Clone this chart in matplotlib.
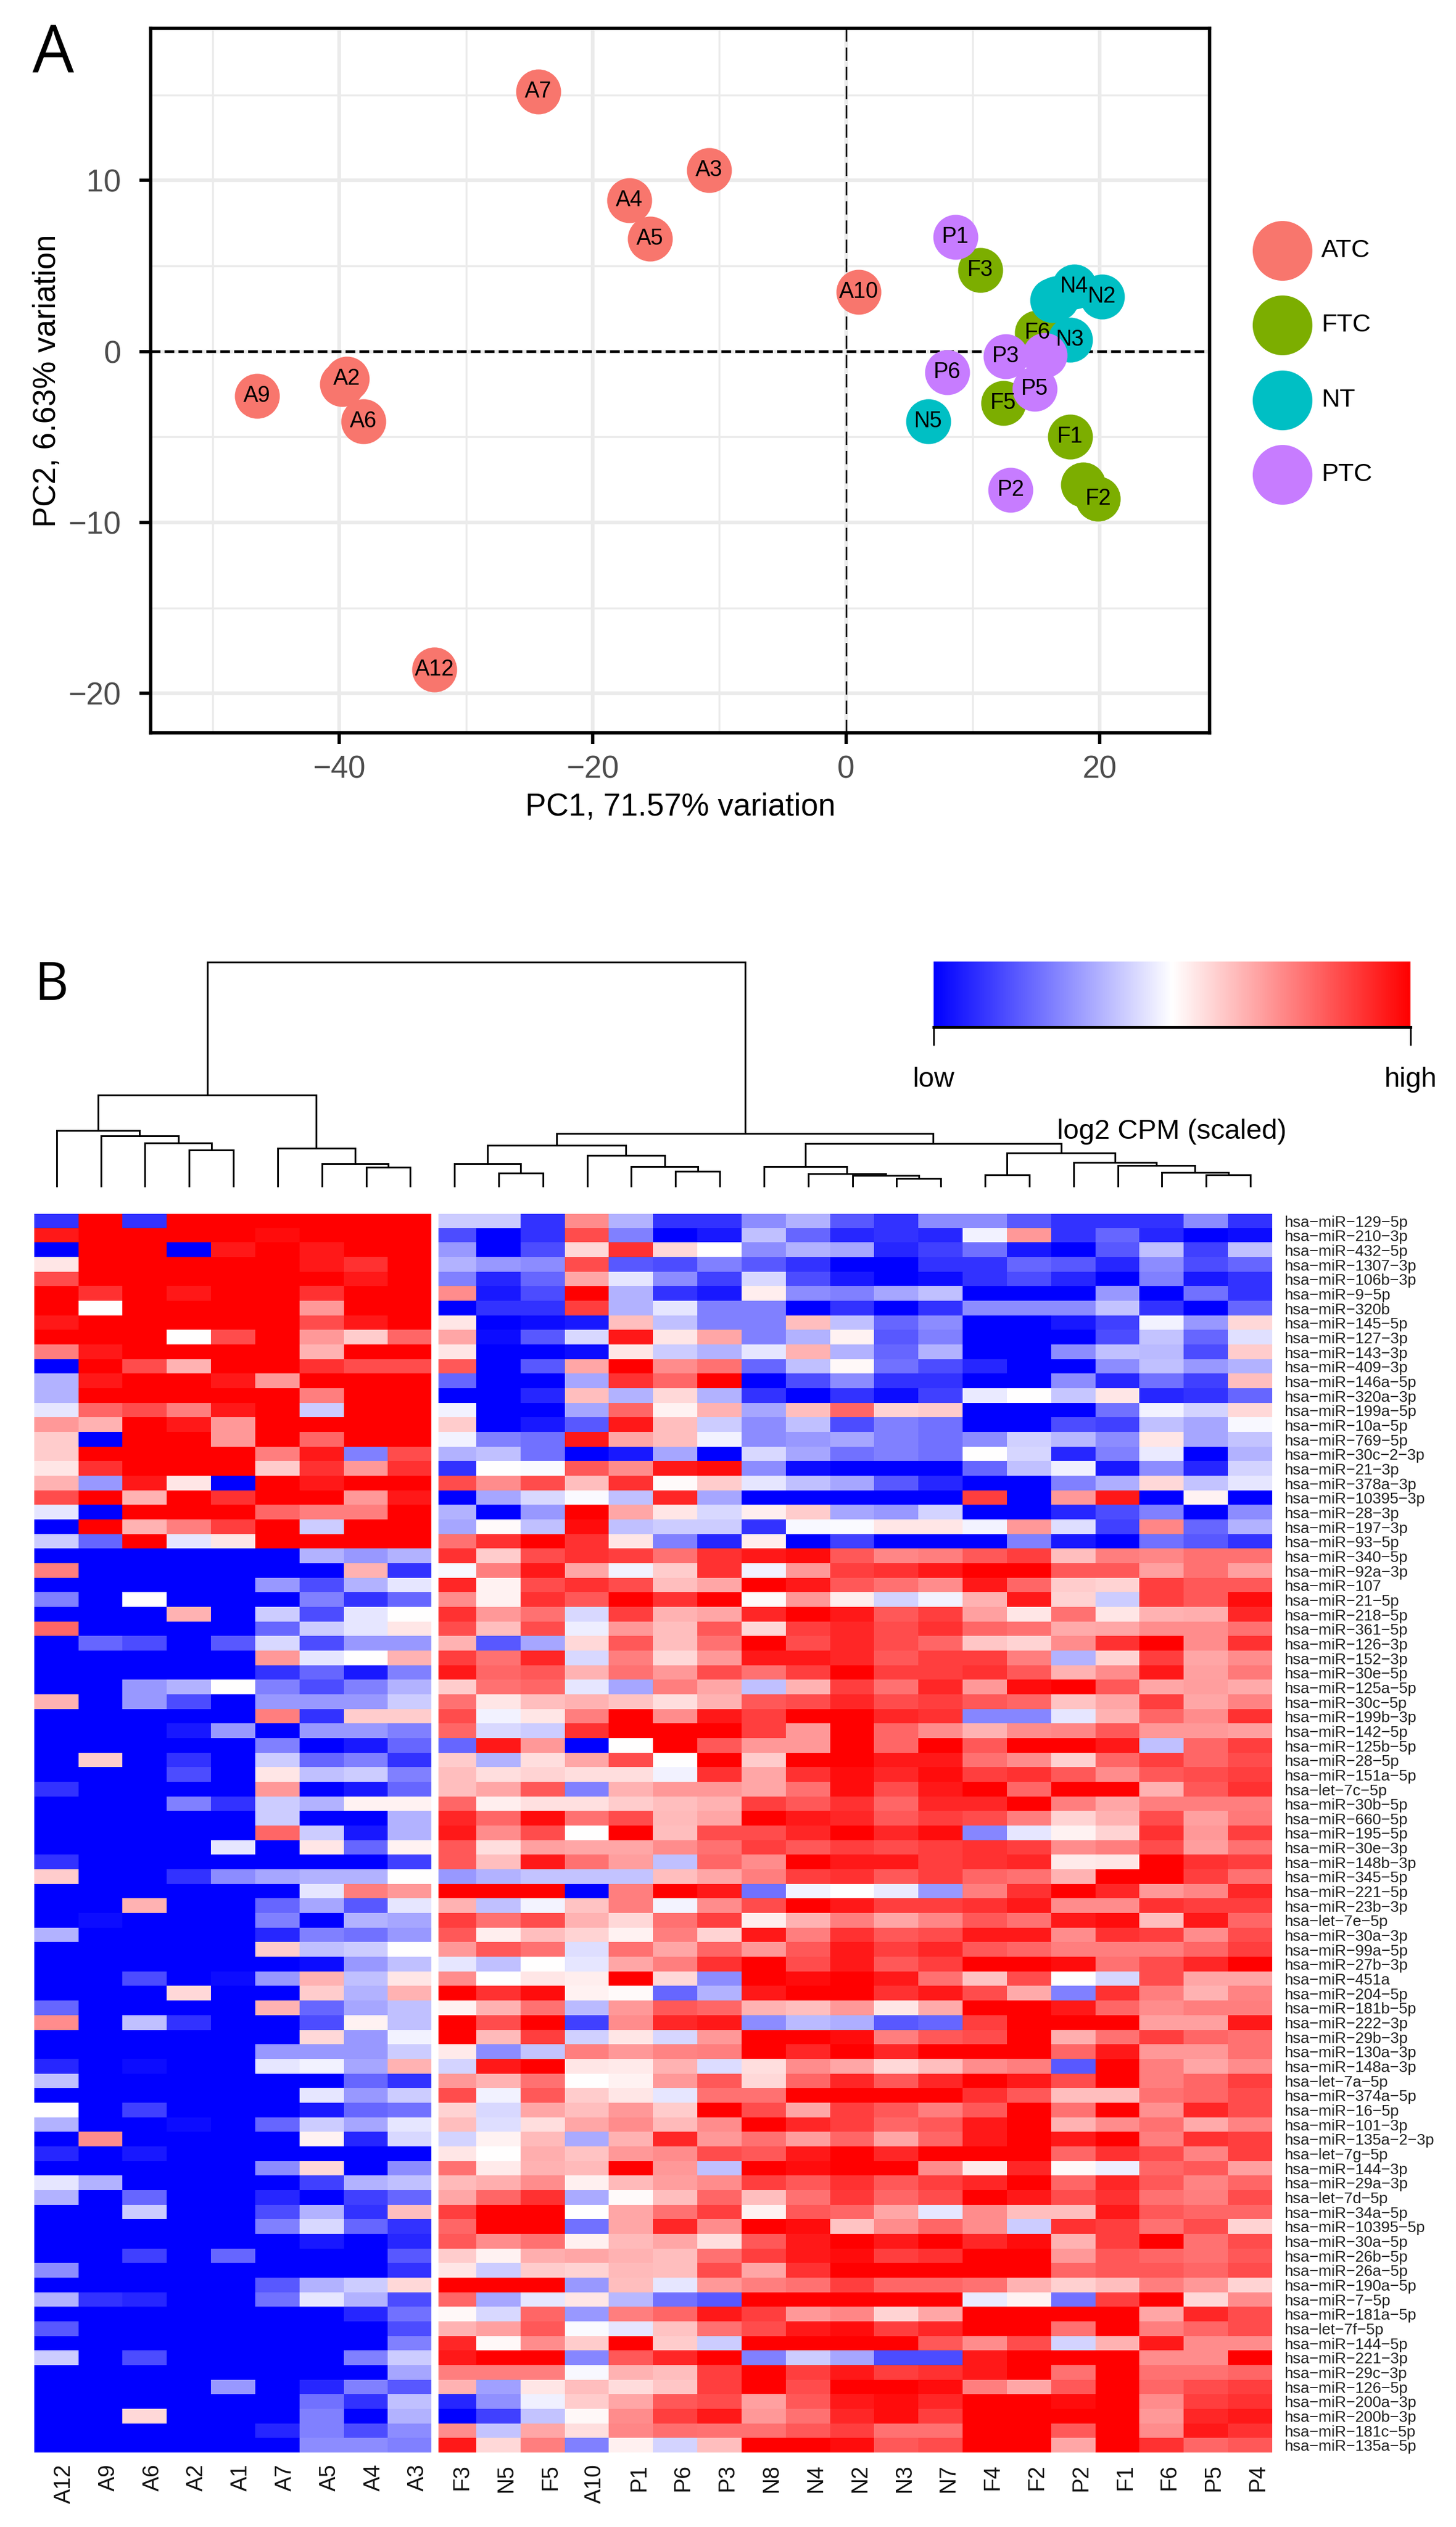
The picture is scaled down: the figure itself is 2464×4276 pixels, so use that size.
import numpy as np
import matplotlib
matplotlib.use('Agg')
import matplotlib.pyplot as plt
from matplotlib.cm import ScalarMappable
from matplotlib.colors import Normalize
from matplotlib.transforms import ScaledTranslation

plt.rcParams['font.family'] = ['Liberation Sans', 'DejaVu Sans']

W, H = 2464, 4276

# panel A
group_names = ['ATC', 'FTC', 'NT', 'PTC']
group_colors = ['#F8766D', '#7CAE00', '#00BFC4', '#C77CFF']
atc_labels = ['A7', 'A3', 'A4', 'A5', 'A10', '', 'A2', 'A9', 'A6', 'A12']
atc_pc1 = [-24.3, -10.8, -17.1, -15.5, 1.0, -39.8, -39.4, -46.5, -38.1, -32.5]
atc_pc2 = [15.2, 10.6, 8.85, 6.6, 3.5, -1.9, -1.6, -2.6, -4.1, -18.6]
ftc_labels = ['F3', 'F6', 'F5', 'F1', '', 'F2']
ftc_pc1 = [10.6, 15.1, 12.4, 17.7, 18.7, 19.9]
ftc_pc2 = [4.75, 1.1, -3.0, -5.0, -7.8, -8.6]
nt_labels = ['', '', 'N4', 'N2', 'N3', 'N5']
nt_pc1 = [16.6, 16.3, 18.0, 20.2, 17.7, 6.5]
nt_pc2 = [3.1, 3.0, 3.8, 3.2, 0.7, -4.1]
ptc_labels = ['P1', 'P3', '', 'P6', 'P5', 'P2']
ptc_pc1 = [8.65, 12.6, 15.7, 8.0, 14.9, 13.0]
ptc_pc2 = [6.7, -0.3, -0.2, -1.2, -2.2, -8.1]

# panel B
col_labels = ['A12', 'A9', 'A6', 'A2', 'A1', 'A7', 'A5', 'A4', 'A3',
              'F3', 'N5', 'F5', 'A10', 'P1', 'P6', 'P3', 'N8', 'N4', 'N2',
              'N3', 'N7', 'F4', 'F2', 'P2', 'F1', 'F6', 'P5', 'P4']
row_names = ['miR-129-5p', 'miR-210-3p', 'miR-432-5p', 'miR-1307-3p', 'miR-106b-3p', 'miR-9-5p', 'miR-320b',
             'miR-145-5p', 'miR-127-3p', 'miR-143-3p', 'miR-409-3p', 'miR-146a-5p', 'miR-320a-3p', 'miR-199a-5p',
             'miR-10a-5p', 'miR-769-5p', 'miR-30c-2-3p', 'miR-21-3p', 'miR-378a-3p', 'miR-10395-3p', 'miR-28-3p',
             'miR-197-3p', 'miR-93-5p', 'miR-340-5p', 'miR-92a-3p', 'miR-107', 'miR-21-5p', 'miR-218-5p',
             'miR-361-5p', 'miR-126-3p', 'miR-152-3p', 'miR-30e-5p', 'miR-125a-5p', 'miR-30c-5p', 'miR-199b-3p',
             'miR-142-5p', 'miR-125b-5p', 'miR-28-5p', 'miR-151a-5p', 'let-7c-5p', 'miR-30b-5p', 'miR-660-5p',
             'miR-195-5p', 'miR-30e-3p', 'miR-148b-3p', 'miR-345-5p', 'miR-221-5p', 'miR-23b-3p', 'let-7e-5p',
             'miR-30a-3p', 'miR-99a-5p', 'miR-27b-3p', 'miR-451a', 'miR-204-5p', 'miR-181b-5p', 'miR-222-3p',
             'miR-29b-3p', 'miR-130a-3p', 'miR-148a-3p', 'let-7a-5p', 'miR-374a-5p', 'miR-16-5p', 'miR-101-3p',
             'miR-135a-2-3p', 'let-7g-5p', 'miR-144-3p', 'miR-29a-3p', 'let-7d-5p', 'miR-34a-5p', 'miR-10395-5p',
             'miR-30a-5p', 'miR-26b-5p', 'miR-26a-5p', 'miR-190a-5p', 'miR-7-5p', 'miR-181a-5p', 'let-7f-5p',
             'miR-144-5p', 'miR-221-3p', 'miR-29c-3p', 'miR-126-5p', 'miR-200a-3p', 'miR-200b-3p', 'miR-181c-5p',
             'miR-135a-5p']

# scaled expression, -10 (low) to 10 (high), read by eye
atc_block = [
    [-8, 10, -8, 10, 10, 10, 10, 10, 10],
    [9, 10, 10, 10, 10, 9.5, 10, 10, 10],
    [-10, 10, 10, -10, 9, 10, 9, 10, 10],
    [1, 10, 10, 10, 10, 10, 9, 8, 10],
    [7, 10, 10, 10, 10, 10, 10, 9, 10],
    [10, 8, 10, 9, 10, 10, 8, 10, 10],
    [10, 0, 10, 10, 10, 10, 4, 10, 10],
    [9, 10, 10, 10, 10, 10, 7, 9, 10],
    [10, 10, 10, 0, 7, 10, 4, 2, 6],
    [5, 9, 10, 10, 10, 10, 3, 10, 10],
    [-10, 10, 7, 3, 10, 10, 8, 7, 7],
    [-3, 9, 10, 10, 9, 4, 10, 10, 10],
    [-3, 10, 10, 10, 10, 10, 5, 10, 10],
    [-1, 6, 7, 5, 9, 10, -2, 10, 10],
    [4, 3, 10, 9, 4, 10, 10, 10, 10],
    [2, -10, 10, 10, 4, 10, 6, 10, 10],
    [2, 10, 10, 10, 10, 5, 9, -5, 7],
    [1, 8, 10, 10, 10, 2, 8, 4, 8],
    [3, -4, 9, 1, -10, 10, 9, 10, 10],
    [7, 10, 3, 10, 8, 10, 10, 4, 9],
    [-1, -10, 10, 10, 10, 6, 5, 5, 10],
    [-10, 10, 3, 5, 7.5, 10, -2, 10, 10],
    [-2, -6, 10, -1, 1, 10, 10, 10, 10],
    [-10, -10, -10, -10, -10, -10, -3, -4, -3],
    [5, -10, -10, -10, -10, -10, -10, 3, -8],
    [-10, -10, -10, -10, -10, -4, -7, -3, -1],
    [-5, -10, 0, -10, -10, -10, -5, -8, -6],
    [-10, -10, -10, 3, -10, -2, -7, -1, 0],
    [6, -10, -10, -10, -10, -6, -2, -1, 1],
    [-10, -6, -7, -10, -6.5, -1.5, -7, -4, -4],
    [-10, -10, -10, -10, -10, 4, -1, 0, 3],
    [-10, -10, -10, -10, -10, -8, -6, -9, -5],
    [-10, -10, -4, -3, 0, -5, -7, -5, -3],
    [3, -10, -4, -7, -10, -4, -4, -4, -2],
    [-10, -10, -10, -10, -10, 5, -8, 2, 2],
    [-10, -10, -10, -9, -4, -10, -4, -4, -5],
    [-10, -10, -10, -10, -10, -5, -10, -9, -6],
    [-10, 2, -10, -8, -10, -2, -6, -5, -8],
    [-10, -10, -10, -7, -10, 1, -2.5, -2, -5],
    [-8, -10, -10, -10, -10, 4, -10, -9, -6],
    [-10, -10, -10, -5, -8, -2, -3, 0.5, 0.5],
    [-10, -10, -10, -10, -10, -2, -10, -10, -3],
    [-10, -10, -10, -10, -10, 6, -2, -9, -3],
    [-10, -10, -10, -10, -1, -10, 1, -6, 0.5],
    [-8, -10, -10, -10, -10, -10, -10, -10, -7.5],
    [2, -10, -10, -8, -4.5, -3.5, -3, -3, 0],
    [-10, -10, -10, -10, -10, -10, -1, 5, 4],
    [-10, -10, 3, -10, -10, -6, -3.5, -6.5, -1],
    [-10, -9.5, -10, -10, -10, -5, -10, -3, -3.5],
    [-3, -10, -10, -10, -10, -8.5, -5, -5.5, -4],
    [-10, -10, -10, -10, -10, 2, -2.5, -2, 0],
    [-10, -10, -10, -10, -10, -10, -9.5, -4, -2.5],
    [-10, -10, -7, -10, -9.5, -4, 3, -2.5, 1],
    [-10, -10, -10, 1.5, -10, -10, 2, -3, 3],
    [-6, -10, -10, -10, -10, 3, -6, -3.5, -2.5],
    [4.5, -10, -2.5, -8, -10, -10, -7, 0.5, -2.5],
    [-10, -10, -10, -10, -10, -10, 1.5, -4, -0.5],
    [-10, -10, -10, -10, -10, -4, -4, -4, -2],
    [-8.5, -10, -9.5, -10, -10, -1, -0.5, -3.5, 3],
    [-2.5, -10, -10, -10, -10, -10, -10, -6, -8],
    [-10, -10, -10, -10, -10, -10, -1, -4, -2],
    [0, -10, -7.5, -10, -10, -10, -9, -6, -5.5],
    [-3, -10, -10, -9.5, -10, -6, -2, -3.5, -1],
    [-10, 4.5, -10, -10, -10, -10, 0.5, -8.5, -1.5],
    [-8.5, -10, -9, -10, -10, -10, -10, -10, -10],
    [-10, -10, -10, -10, -10, -4.5, 1.5, -10, -4.5],
    [-1, -3, -10, -10, -10, -10, -7.5, -3, -2.5],
    [-3, -10, -6, -10, -10, -8.5, -10, -7.5, -6],
    [-10, -10, -2, -10, -10, -7, -3, -8, 2.5],
    [-10, -10, -10, -10, -10, -5, -1.5, -6, -8],
    [-10, -10, -10, -10, -10, -10, -9, -10, -8.5],
    [-10, -10, -7.5, -10, -6, -10, -10, -10, -6.5],
    [-4.5, -10, -10, -10, -10, -10, -10, -10, -8],
    [-10, -10, -10, -10, -10, -6.5, -3, -2, 1.5],
    [-3, -8, -8.5, -10, -10, -5.5, -1, -3, -7],
    [-10, -10, -10, -10, -10, -10, -10, -8.5, -5.5],
    [-6.5, -10, -10, -10, -10, -10, -10, -10, -7],
    [-10, -10, -10, -10, -10, -10, -10, -10, -5],
    [-2, -10, -7, -10, -10, -10, -10, -5, -2],
    [-10, -10, -10, -10, -10, -10, -10, -10, -3.5],
    [-10, -10, -10, -10, -4, -10, -8.5, -5, -6.5],
    [-10, -10, -10, -10, -10, -10, -5.5, -8, -2.5],
    [-10, -10, 1.5, -10, -10, -10, -5, -10, -3],
    [-10, -10, -10, -10, -10, -8.5, -5, -7, -4.5],
    [-10, -10, -10, -10, -10, -10, -4.5, -4.5, -5],
]
mid_block = [
    [-2, -2, -8, 4.5, -3, -8, -8, -4.5, -3, -6.5],
    [-7, -10, -8, 7, -5, -10, -9, -2.5, -6, -8.5],
    [-4, -10, -7, 1.5, 8, 1.5, 0, -4.5, -3, -3.5],
    [-3, -4, -4.5, 7, -6.5, -7, -5, -6.5, -8, -10],
    [-5, -8.5, -6, 3.5, -1, -4.5, -7.5, -1.5, -7, -9],
    [4.5, -9, -7, 10, -3, -8, -9, 0.7, -4.5, -5],
    [-10, -8, -8, 7.5, -3, -1, -5, -5, -10, -8],
    [1, -10, -9.5, -9, 2.5, -2.5, -5, -5, 2.5, -2.5],
    [3.5, -9.5, -6.5, -1.5, 9, 1, 3.5, -5, -3, 0.5],
    [1, -10, -10, -9.5, 1, -2, -3, -1, 3, -3],
    [6.5, -10, -6.5, 3.5, 10, 4.5, 5.5, -6, -2.5, 0.3],
    [-6, -10, -10, -3.5, 8, 6, 10, -10, -7, -4.5],
    [-10, -10, -8.5, 2.5, -3, 1.5, -3, -8, -10, -8],
    [-0.5, -10, -10, -3.5, 6, 0.5, 3, -3.5, 2.5, 6],
    [2, -10, -9, -6.5, 9, 2.5, -2, -4.5, -2.5, -7],
    [-0.5, -5, -5.5, 9, 3.5, 2.5, -0.5, -4.5, -4, -3.5],
    [-3, -2.5, -5.5, -10, -9, -3.5, -10, -1.5, -3.5, -5.5],
    [-8, 0, -0.2, 6.5, 4.5, 9, 9.5, -4.5, -9.5, -10],
    [7, 4.5, 7, 2.5, 8, 0.2, 2, -1, -2.5, -3.5],
    [-10, -3.5, -1.5, -0.2, -2.5, 8.5, -3.5, -10, -10, -10],
    [-3, -10, -4, 10, 3.5, 1, -1.5, 0.7, 2, -3.5],
    [-3.5, 0.2, -2.5, 9.5, -2.5, -2, -2, -8, -0.3, -0.2],
    [5.5, 8, 10, 8, 1, -5, -8.5, 0.7, -10, -7.5],
    [8, 2, 7, 8, 7.5, 5.5, 8, 9, 9.5, 6.5],
    [-0.3, 5, 9, 3.5, -0.5, 2, 8, -0.5, 4, 7.5],
    [8.5, 0.5, 7, 8, 7, 2.5, 3.5, 10, 9, 6.5],
    [4.5, 0.5, 8, 6.5, 10, 8, 10, 0.2, 4, 0.7],
    [8, 4, 5.5, -1.5, 7.5, 3, 3.5, 8.5, 10, 9],
    [7, 2.5, 7, -0.7, 4, 2.5, 6.5, 1.5, 7.5, 8.5],
    [3, -6.5, -3.5, 1.5, 6.5, 2.5, 5.5, 10, 7, 8.5],
    [7.5, 5.5, 8.5, -1.5, 5, 1.5, 4, 9, 9, 8.5],
    [9, 6, 6.5, 3, 5.5, 4, 7, 5.5, 7.5, 10],
    [2, 5.5, 6, -1, -3.5, 5, 3.5, -2.5, 3, 7.5],
    [5.5, 1, 2.5, 3, 2.3, 1.3, 3, 6.5, 7, 8.5],
    [7, -0.5, 1, 5, 10, 4.5, 9, 7.5, 10, 10],
    [6, -1.5, -2, 8, 10, 10, 10, 7.5, 4, 10],
    [-6, 9, 4, -10, 0, 10, 6.5, 4, 4, 10],
    [2, -3, 1.3, 3.5, 7, 0, 10, 2, 10, 10],
    [2.5, 1.3, 1.7, 1.3, 1.3, -0.5, 8, 3.5, 8, 9.5],
    [2.5, 3.5, 6.5, -5, 3, 4, 4, 3.5, 5.5, 9.5],
    [6, 0.7, 1.2, 1.2, 2, 2.5, 3, 7.5, 6.5, 8],
    [8.5, 6, 9.5, 5.5, 7, 2.7, 3.5, 10, 9, 8.5],
    [9, 4.5, 7, 0, 10, 2.5, 7, 7, 8.5, 10],
    [6.5, 1.3, 3.7, 3.5, 3.5, 4.5, 5.5, 7.5, 6.5, 7.5],
    [6.5, 2.5, 9, 5.5, 3.8, -2.5, 6, 4.5, 10, 9],
    [-4, -3, -2.3, -2.3, -2.3, 2.5, 3.5, 5, 7.5, 8],
    [10, 10, 10, -10, 5, 10, 9, -5.5, -0.5, 0],
    [3, -2.5, -0.4, 2.3, 5, -0.4, 4.5, 7, 10, 9],
    [7.5, 5.5, 7, 3, 1.5, 5.5, 7.5, 0.7, 3, 5],
    [6.5, 0.7, 2.5, 1.7, 0.5, 5, 1.7, 9, 5, 8],
    [4, 6.5, 5.5, -1.3, 5.5, 3.5, 6, 4, 6.5, 9],
    [-1, -2.5, 0, -1, 3.5, 5, 8, 10, 7, 9],
    [4.5, 0, 1, 0.7, 10, 1.5, -4.5, 10, 9.5, 10],
    [10, 8, 9.5, 0.5, 0.2, -6, -3, 9, 10, 10],
    [0.5, 3, 5.5, -2.7, 4, 6.5, 6, 3, 2.5, 4],
    [10, 7, 10, -7.5, 4.5, 8.5, 9, -4.5, -2.7, -3.2],
    [10, 2.7, 7.5, -1.8, 1, -1.6, 4, 10, 10, 9.5],
    [0.8, -4.5, -2.3, 5, 4, 4.8, 5, 10, 8.5, 10],
    [-1.7, 9, 10, 1, 0.8, 3, -1.4, 1.3, 4.5, 3.5],
    [4, 3, 5.5, 0, 0.5, 4, 6.5, 1.5, 6, 8.5],
    [7, -0.5, 6.5, 2, 1, -1, 5.5, 5.5, 10, 10],
    [1.7, -1.5, 3.5, 2.5, 4, 2, 10, 7, 3.5, 7.5],
    [2.5, -1.3, 1.3, 3.5, 4.5, 2.7, 4.5, 10, 8.5, 7.5],
    [-1.7, 0.5, 2.7, -3.3, 3, 8.5, 4, 5.5, 3.8, 6],
    [1, 0, 3.2, 2.3, 4, 4.5, 7, 6.5, 9, 10],
    [5.5, 0.8, 3, 2.7, 10, 4, -2.5, 10, 9.5, 10],
    [2.7, 3.2, 4.5, 0.6, 2.7, 3.8, 4.5, 7.5, 6.5, 8],
    [3.5, 6, 8, -3.3, 0.2, 2.5, 6, 2.5, 5.5, 7.8],
    [7.5, 10, 10, 0, 3.5, 5.5, 7.5, 0.5, 6.5, 6],
    [6, 10, 10, -5.5, 3.5, 8.5, 4.5, 10, 9.5, 2.3],
    [6.5, 4.5, 5.5, 0.6, 2.7, 3.5, 1.3, 6.5, 9, 10],
    [2, 0.5, 3.2, 3.5, 3, 2.5, 5.5, 7.5, 9, 9.5],
    [1, -2, 2, 1.7, 2.7, 2.5, 7, 3.5, 8, 10],
    [10, 10, 10, -4, 2.5, -1, 4, 5, 5.5, 7.5],
    [6, -3.5, -1, 1, -2.8, -5.5, -6.5, 10, 10, 10],
    [0.3, -1.5, 6, -4, 5, 6, 9, 7.5, 4, 4.7],
    [3, 3.7, 6.5, -0.2, -1, 2.3, 5.5, 7, 9, 9.5],
    [8.5, 0.3, 4.5, 2, 10, 2, -2, 10, 10, 10],
    [9, 10, 10, -4.7, 6.5, 8.5, 10, -5, -2, -3.5],
    [5, 5, 5, -0.3, 3, 2.5, 7.5, 10, 7.5, 9],
    [3, -3.7, 1, 2.5, 1.4, 2.2, 7.5, 10, 7, 10],
    [-8.5, -4.3, -0.6, 2, 3.5, 6.5, 7, 3.7, 6.5, 9],
    [-10, -7.5, -2.3, 0.3, 4.5, 7.5, 9, 4, 5.5, 8.5],
    [4.5, -2.3, 3.5, 1.3, 4.7, 5.7, 5.5, 5.5, 6.5, 7.5],
    [9, 1.5, 5, -5, 0.6, -1.7, 2.5, 10, 10, 9.5],
]
right_block = [
    [-8, -4.5, -4.5, -6.5, -8, -8, -8, -4.5, -8],
    [-8, -8.5, -0.5, 4, -8, -6, -8.5, -10, -9.5],
    [-8.5, -7.5, -5.5, -9, -10, -6.5, -2.5, -7.5, -2.5],
    [-10, -8, -8, -6, -6.5, -8.5, -4.5, -7, -6],
    [-10, -9.5, -8, -7, -8.5, -10, -5, -9, -8],
    [-3.5, -2.5, -10, -10, -10, -4, -10, -5.5, -8],
    [-10, -8, -4.5, -4.5, -4.5, -2.3, -8, -10, -6],
    [-6, -4.5, -10, -10, -9, -7.5, -0.5, -4, 1.5],
    [-6.5, -5, -10, -10, -10, -7, -2.3, -6, -1.2],
    [-6, -3, -10, -10, -4.5, -2.5, -2.7, -7, 2],
    [-5.5, -7, -8.5, -10, -10, -4.5, -2.5, -4, -3],
    [-8, -8, -10, -10, -4.5, -8.5, -5.5, -7.5, 2.5],
    [-9.5, -7.5, -0.8, 0, -2.2, 1, -8.5, -8, -6],
    [1.7, 2, -10, -10, -10, -5.5, -0.5, -1.7, 1.5],
    [-5, -5.5, -10, -10, -7, -7.5, -2.5, -3.5, -0.3],
    [-5, -5.5, -4.5, -1.8, -2.8, -4.5, 1, -3.5, -2.3],
    [-5, -5.5, 0, -1.6, -8.5, -5, -0.8, -10, -3],
    [-10, -10, -6, -2.5, -0.6, -9, -4.5, -8.5, -1.7],
    [-6.5, -8.5, -10, -10, -5, -3.2, 1.5, -2.3, -1],
    [-10, -10, 7.5, -10, 4, 9, -10, 0.5, -10],
    [-4, -1.7, -10, -10, -8.5, -7, -5, -10, -4.5],
    [1, 1, -0.4, 4, -1.3, -7.5, 4.7, -6, -3],
    [-10, -10, -10, -5, -9, -10, -5.5, -6.5, -8],
    [4.7, 5, 6.5, 7.5, 2.5, 5, 4.7, 5.5, 5.5],
    [8, 9, 10, 10, 6.5, 6.5, 3.7, 5.5, 3.7],
    [5.5, 4.5, 9, 6, 2, 1.7, 7.5, 6.5, 6.5],
    [-1.7, -0.5, 3, 9, 1.7, -2, 7.5, 6.5, 9.5],
    [6.5, 7.5, 3.7, 1, 5.5, 1, 3, 3.2, 8.5],
    [7, 8, 6, 5.5, 3.3, 3.5, 4.5, 4.5, 5.5],
    [7, 6, 2.2, 1.7, 4.5, 8, 10, 4.5, 8],
    [6.5, 7.5, 7.5, 5, -3, 1.7, 7.5, 3.5, 4.5],
    [7.5, 7.5, 8, 6.5, 3, 4.5, 9, 3.7, 5.2],
    [5.5, 8.5, 4, 9.5, 10, 6.5, 3.5, 3.8, 3.3],
    [7, 7.5, 6.5, 6, 2.3, 3.5, 7.5, 3.5, 4.8],
    [8.5, 8, -4.7, -4.7, -1, 3, 6, 4.5, 8],
    [6, 4.5, 3, 4.5, 4.7, 6.5, 4, 4, 3.7],
    [6, 10, 6.5, 10, 10, 9, -2.5, 6, 7.5],
    [9, 9, 5.5, 4.5, 1.8, 6, 7.5, 6, 7],
    [8.5, 9.5, 7.5, 8, 6.5, 4.5, 6.5, 7, 7.5],
    [7, 9, 10, 6, 10, 10, 3, 6.5, 8],
    [6, 8.5, 8.5, 10, 5, 3.5, 5, 5, 5],
    [6.5, 7.5, 7, 5, 1.7, 3, 7, 3.7, 5.2],
    [8.5, 9.5, -4.7, -1, 0.5, 1.7, 8, 4, 7.5],
    [7, 7.5, 8, 7.5, 4.5, 5, 7, 3.8, 5.5],
    [9, 7.5, 8, 8.5, 0.8, 1, 10, 8, 7.5],
    [6.5, 7.5, 6, 5.5, 3, 10, 10, 7.5, 5.5],
    [-0.8, -4, 5, 8, 10, 8.5, 4, 4.7, 8.5],
    [7.5, 7.5, 8, 9, 4.5, 4.5, 8, 7.5, 7.5],
    [3.5, 4.7, 6.5, 5.5, 9, 9.5, 2.5, 9, 6],
    [6.5, 7, 9, 9, 4.5, 8, 7.5, 4.5, 7],
    [7.5, 8.5, 6.5, 6, 5, 5, 5, 6, 7.5],
    [6.5, 7.5, 10, 10, 9.5, 5.5, 7, 8.5, 10],
    [9, 5.5, 2.3, 7, 0, -1.6, 7, 3.5, 3.5],
    [8, 9, 7, 3.3, -5, 8, 5, 3, 4.8],
    [1, 3.3, 10, 10, 9, 6, 4.5, 5, 5],
    [-6.5, -6, 7.5, 10, 10, 10, 3.7, 3.7, 9],
    [5, 6.5, 7, 10, 3.2, 5.5, 7.5, 6, 5.5],
    [8.5, 10, 10, 10, 6, 9, 4, 4, 5.5],
    [1.5, 2.5, 4.5, 5, -6.5, 10, 5, 3.5, 4.5],
    [6.5, 8.5, 10, 9, 7, 10, 5, 6, 7.5],
    [10, 10, 8, 6.5, 2.5, 2.5, 5.5, 6, 7],
    [6.5, 5, 6.5, 10, 5.5, 10, 4.3, 8.5, 7],
    [6, 6.5, 9, 10, 3, 4.5, 5.5, 3.3, 4.8],
    [3.5, 6, 9, 10, 9, 10, 5, 8, 7.5],
    [8.5, 10, 10, 10, 6, 8, 7, 4.8, 7.5],
    [10, 4.5, 0.8, 8.5, 0.3, -0.7, 6, 6.5, 3.7],
    [6.5, 7.5, 8.5, 10, 6, 8.5, 6.5, 4.8, 6],
    [6, 7, 10, 9, 7, 8, 5.5, 5, 7],
    [3.5, -1, 4.5, 2.5, 2.5, 9, 6.5, 6, 6],
    [4.5, 6, 4.5, -2, 8, 7.5, 5.5, 7, 1.7],
    [9, 10, 8.5, 9.5, 3, 7.5, 10, 5.5, 7],
    [7.5, 8, 10, 10, 4, 6.5, 6, 5.5, 6.5],
    [10, 10, 10, 10, 6, 6.5, 6.5, 6, 7],
    [6, 6, 5.5, 3, 1.8, 2.5, 5, 4, 1.7],
    [10, 10, -0.8, 0.5, -5.5, 7.5, 10, 1.5, 4.5],
    [1.7, 3.5, 10, 10, 10, 10, 3.5, 8.5, 7],
    [7.5, 8.5, 10, 10, 5.5, 10, 5, 6, 7],
    [10, 6.5, 4.5, 7, -1.7, 3, 9, 4.5, 4.5],
    [-7, -7, 9, 10, 10, 10, 4.5, 4.5, 10],
    [7.5, 8, 9, 10, 5.5, 10, 5.5, 5.5, 6],
    [10, 9.5, 5, 3.5, 6.5, 10, 6, 7, 7.5],
    [9.5, 8.5, 10, 10, 9.5, 10, 4.5, 7.5, 8],
    [9.5, 7.5, 10, 10, 10, 10, 4, 8.5, 9],
    [5.5, 5.5, 10, 10, 6.5, 10, 4.5, 9, 8],
    [6.5, 7, 10, 10, 3.5, 10, 8, 6, 6.5],
]

# column dendrogram: (child, child, height), ids above 27 are earlier merges
col_merges = [
    (3, 4, 61.5), (2, 28, 73.3), (1, 29, 85.5), (0, 30, 94),
    (7, 8, 32.5), (6, 32, 38), (5, 33, 64.4), (31, 34, 153.7),
    (10, 11, 22.3), (9, 36, 38.3), (14, 15, 24.6), (13, 38, 32.8),
    (12, 39, 51.7), (37, 40, 68.9), (19, 20, 12.8), (18, 42, 18.2),
    (17, 43, 20.7), (16, 44, 33.2), (21, 22, 19.1), (26, 27, 19.1),
    (25, 47, 23), (24, 48, 35), (23, 49, 39.9), (46, 50, 55.8),
    (45, 51, 72.4), (41, 52, 89), (35, 53, 378.8),
]


def px_axes(fig, left, top, right, bottom):
    return fig.add_axes((left / W, 1 - bottom / H, (right - left) / W, (bottom - top) / H))


fig = plt.figure(figsize=(W / 100, H / 100), dpi=100)
fig.text(55 / W, 1 - 122 / H, 'A', fontsize=80, family='Open Sans', va='baseline')
fig.text(58 / W, 1 - 1692 / H, 'B', fontsize=64, family='Open Sans', va='baseline')

# panel A, PCA scatter
ax = px_axes(fig, 255, 48, 2047, 1240)
ax.set_xlim(-54.9, 28.7)
ax.set_ylim(-22.3, 18.9)
ax.set_xticks([-40, -20, 0, 20])
ax.set_xticks([-50, -30, -10, 10], minor=True)
ax.set_yticks([-20, -10, 0, 10])
ax.set_yticks([-15, -5, 5, 15], minor=True)
ax.grid(which='major', color='#EBEBEB', lw=4.5)
ax.grid(which='minor', color='#EBEBEB', lw=2.4)
ax.set_axisbelow(True)
ax.tick_params(which='minor', length=0)
ax.tick_params(which='major', length=14, width=4, labelsize=38, labelcolor='#4D4D4D')
ax.tick_params(axis='x', which='major', pad=13)
ax.tick_params(axis='y', which='major', pad=22)
for s in ax.spines.values():
    s.set_linewidth(4)
ax.axhline(0, color='black', lw=3.2, ls='--', zorder=1.5)
ax.axvline(0, color='black', lw=1.8, ls=(0, (9, 4)), zorder=1.5)

all_pc = [(atc_pc1, atc_pc2, atc_labels), (ftc_pc1, ftc_pc2, ftc_labels),
          (nt_pc1, nt_pc2, nt_labels), (ptc_pc1, ptc_pc2, ptc_labels)]
for (xs, ys, labs), c in zip(all_pc, group_colors):
    ax.scatter(xs, ys, s=3000, color=c, linewidths=0, zorder=3)
for xs, ys, labs in all_pc:
    for x, y, lab in zip(xs, ys, labs):
        ax.text(x, y, lab, fontsize=27, ha='center', va='center', zorder=4)
ax.set_xlabel('PC1, 71.57% variation', fontsize=38, labelpad=10)
ax.set_ylabel('PC2, 6.63% variation', fontsize=38, labelpad=8)

# legend built on its own small axes so the keys sit where they do in the paper figure
ax_leg = px_axes(fig, 2100, 361, 2450, 866)
ax_leg.set_xlim(0, 350)
ax_leg.set_ylim(3.5, -0.5)
ax_leg.axis('off')
for i, (name, c) in enumerate(zip(group_names, group_colors)):
    ax_leg.scatter([70], [i], s=5300, color=c, linewidths=0, clip_on=False)
    ax_leg.text(136, i, name, fontsize=31, va='center')

# panel B, heatmap with dendrogram on top
values = np.hstack([np.array(atc_block), np.array(mid_block), np.array(right_block)])
n_rows, n_cols = values.shape
heat_l, heat_r, heat_t, heat_b = 58.4, 2153.4, 2054, 4150

ax_h = px_axes(fig, heat_l, heat_t, heat_r, heat_b)
norm = Normalize(-10, 10)
ax_h.imshow(values, cmap='bwr', norm=norm, aspect='auto', interpolation='nearest',
            extent=(0, n_cols, n_rows, 0))
ax_h.axvspan(8.976, 9.137, color='white', lw=0)
for s in ax_h.spines.values():
    s.set_visible(False)
ax_h.set_xticks(np.arange(n_cols) + 0.5)
ax_h.set_xticklabels(col_labels, rotation=90, fontsize=27, color='#111111')
ax_h.set_yticks(np.arange(n_rows) + 0.5)
ax_h.set_yticklabels(['hsa\u2212' + n.replace('-', '\u2212') for n in row_names], fontsize=19, color='#222222')
ax_h.yaxis.tick_right()
ax_h.tick_params(axis='both', length=0)
ax_h.tick_params(axis='x', pad=14)
ax_h.tick_params(axis='y', pad=14)
nudge = ScaledTranslation(13 / 100, 0, fig.dpi_scale_trans)
for lab in ax_h.get_xticklabels():
    lab.set_transform(lab.get_transform() + nudge)

ax_d = px_axes(fig, heat_l, 1628, heat_r, 2007)
ax_d.set_xlim(0, n_cols)
ax_d.set_ylim(0, 379)
ax_d.axis('off')
node_x = {i: i + 0.5 for i in range(n_cols)}
node_h = {i: 0 for i in range(n_cols)}
for k, (a, b, h) in enumerate(col_merges):
    ax_d.plot([node_x[a], node_x[a], node_x[b], node_x[b]], [node_h[a], h, h, node_h[b]],
              color='black', lw=2.1, solid_joinstyle='miter', clip_on=False)
    node_x[n_cols + k] = (node_x[a] + node_x[b]) / 2
    node_h[n_cols + k] = h

ax_c = px_axes(fig, 1580, 1627, 2387, 1738)
cb = fig.colorbar(ScalarMappable(norm=norm, cmap='bwr'), cax=ax_c, orientation='horizontal')
cb.outline.set_visible(False)
ax_c.axhline(0, color='black', lw=3.5, clip_on=False)
cb.set_ticks([-10, 10], labels=['low', 'high'])
ax_c.tick_params(length=22, width=2, labelsize=34, pad=26)
cb.set_label('log2 CPM (scaled)', fontsize=34, labelpad=32)

fig.savefig('out.png', dpi=100)
